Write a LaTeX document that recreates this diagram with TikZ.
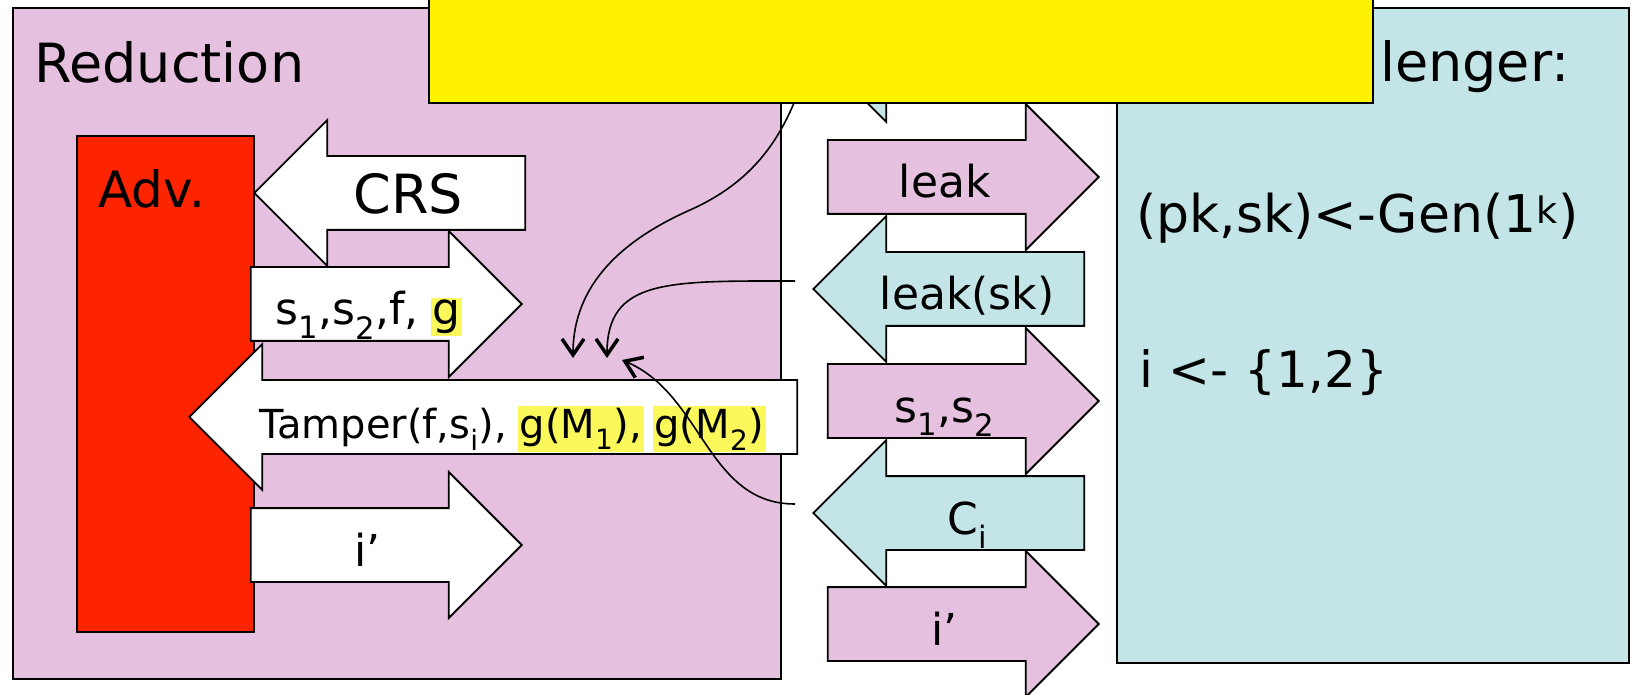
\documentclass[tikz,border=0pt]{standalone}
\usepackage{fontspec}
\setmainfont{DejaVu Sans}
\usetikzlibrary{shapes.arrows, arrows.meta}
\definecolor{redpink}{RGB}{229,193,223}
\definecolor{chalcyan}{RGB}{196,229,231}
\definecolor{advred}{RGB}{255,36,0}
\definecolor{glowyellow}{RGB}{250,248,90}
% yellow glow behind a piece of text
\newcommand\glowtext[1]{{\setlength{\fboxsep}{2pt}\hspace*{-2pt}\colorbox{glowyellow}{#1}\hspace*{-2pt}}}
\tikzset{
  panel/.style={rectangle, draw=black, line width=2pt, inner sep=0pt,
                anchor=south west},
  title/.style={inner sep=0pt, anchor=base west,
                font=\fontsize{54}{60}\selectfont},
  blockarr/.style={single arrow, draw=black, line width=1.8pt,
                   single arrow head extend=36pt, single arrow tip angle=90,
                   single arrow head indent=0pt, minimum width=144pt,
                   minimum height=271pt, inner xsep=0pt, inner ysep=0pt,
                   text height=57pt, text depth=15pt, anchor=tip,
                   font=\fontsize{44}{50}\selectfont},
  toright/.style={blockarr},
  toleft/.style={blockarr, shape border rotate=180},
  whiteR/.style={toright, fill=white},
  whiteL/.style={toleft, fill=white},
  pinkR/.style={toright, fill=redpink},
  cyanL/.style={toleft, fill=chalcyan},
  link/.style={line width=1.6pt,
               -{Straight Barb[length=16pt, width=22pt, line width=3.5pt]}},
}

\begin{document}
\begin{tikzpicture}[x=1pt, y=1pt]
  \useasboundingbox (0,0) rectangle (1632,694);

  %% === Reduction and challenger panels ===
  \node[panel, fill=redpink, minimum width=768pt, minimum height=671pt]  (reduc) at (12,14) {};
  \node[panel, fill=chalcyan, minimum width=512pt, minimum height=655pt] (chal)  at (1116,30) {};
  \node[panel, fill=advred, minimum width=177pt, minimum height=496pt]   (adv)   at (76,61) {};
  \node[title] (reduclbl) at (34,611) {Reduction};
  \node[title, font=\fontsize{50}{56}\selectfont] (advlbl)
        at ([xshift=22pt, yshift=-73pt]adv.north west) {Adv.};

  %% === Adversary <-> reduction ===
  \node[whiteL, font=\fontsize{54}{60}\selectfont] (crs) at (253,501) {CRS};
  \node[whiteR] (sfg) at (523,390)
        {s\textsubscript{1},s\textsubscript{2},f, \glowtext{g}};
  \node[whiteL, minimum height=608pt, font=\fontsize{40}{46}\selectfont] (tamper) at (188,277)
        {Tamper(f,s\textsubscript{i}), \glowtext{g(M\textsubscript{1}),} \glowtext{g(M\textsubscript{2})}};
  \node[whiteR] (iadv) at (523,149) {i’};

  %% === Reduction <-> challenger ===
  \node[cyanL]  (pk)     at (812,645) {};
  \node[pinkR]  (leak)   at (1100,517) {leak};
  \node[cyanL]  (leaksk) at (812,405) {leak(sk)};
  \node[pinkR]  (shares) at (1100,293) {s\textsubscript{1},s\textsubscript{2}};
  \node[cyanL]  (ci)     at (812,181) {C\textsubscript{i}};
  \node[pinkR]  (iout)   at (1100,70) {i’};

  %% === Challenger text ===
  \node[title] (challbl) at (1380,612) {lenger:};
  \node[title, font=\fontsize{52}{58}\selectfont] (gen) at (1136,461) {(pk,sk)<-Gen(1\textsuperscript{k})};
  \node[title, font=\fontsize{50}{56}\selectfont] (pick) at (1139,306) {i <- \{1,2\}};

  %% === Values forwarded into the reduction ===
  \coordinate (in1)  at (573,336);
  \coordinate (in2)  at (607,336);
  \coordinate (in3)  at (622,334);
  \coordinate (bend) at (690,484);
  \draw[link] (pk.tip) to[out=-105, in=24] (bend) to[out=204, in=90] (in1);
  \draw[link] ([xshift=-17pt, yshift=8pt]leaksk.tip)
        to[out=180, in=90, out looseness=1.6, in looseness=1] (in2);
  \draw[link] ([xshift=-17pt, yshift=9pt]ci.tip) to[out=180, in=-23] (in3);

  %% banner on top
  \node[panel, fill=yellow, minimum width=944pt, minimum height=130pt] (banner) at (428,590) {};
\end{tikzpicture}
\end{document}
